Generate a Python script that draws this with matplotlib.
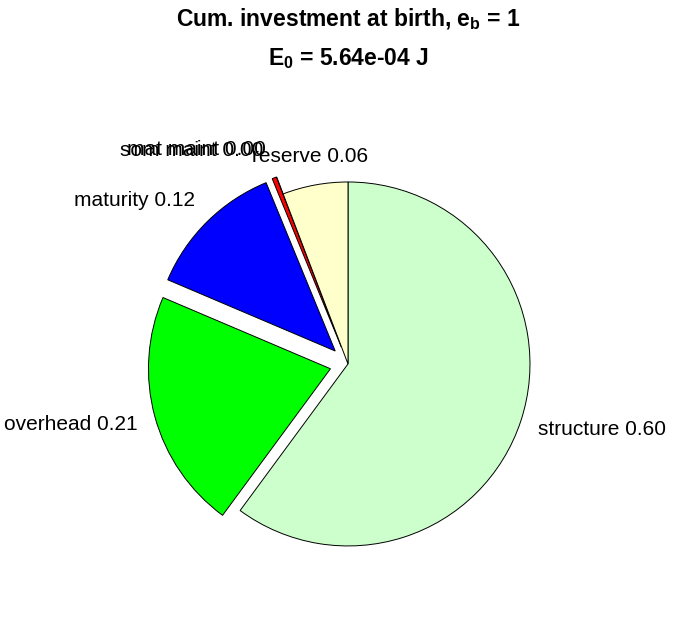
import matplotlib
matplotlib.use("Agg")
import matplotlib.pyplot as plt
import numpy as np

plt.rcParams['font.family'] = ['Liberation Sans', 'DejaVu Sans']
plt.rcParams['mathtext.fontset'] = 'custom'
plt.rcParams['mathtext.rm'] = 'Liberation Sans'
plt.rcParams['mathtext.it'] = 'Liberation Sans'
plt.rcParams['mathtext.bf'] = 'Liberation Sans:bold'

# cumulative investment fractions at birth
names = ["structure", "overhead", "maturity", "som maint", "mat maint", "reserve"]
fractions = [0.601, 0.213, 0.124, 0.004, 0.0, 0.058]
explode = [0, 0.1, 0.1, 0.1, 0.1, 0]
colors = [(0.8, 1, 0.8), (0, 1, 0), (0, 0, 1), (1, 0, 0), (1, 0, 1), (1, 1, 0.8)]
e_b = 1
E_0 = "5.64e-04"

fig = plt.figure(figsize=(6.96, 6.18), dpi=100)
ax = fig.add_axes([0, 0, 1, 1])
wedges, _ = ax.pie(fractions, explode=explode, colors=colors, startangle=90,
                   counterclock=False,
                   wedgeprops=dict(edgecolor="black", linewidth=0.7))

# labels placed roughly like matlab's pie does
for w, name, frac in zip(wedges, names, fractions):
    mid = np.deg2rad((w.theta1 + w.theta2) / 2)
    cx, cy = w.center
    c, s = np.cos(mid), np.sin(mid)
    y = cy + 1.16 * s
    if abs(c) > 0.5:
        x = cx + 1.1 * c
        ha = "left" if c > 0 else "right"
    elif abs(c) > 0.25:
        x = cx + 1.16 * c
        ha = "left" if c > 0 else "right"
    else:
        x = cx + 1.16 * c
        ha = "center"
    ax.text(x, y, f"{name} {frac:.2f}", ha=ha, va="center", fontsize=15)

ax.set_xlim(-1.912, 1.912)
ax.set_ylim(-1.396, 2.0)
ax.set_aspect("equal")
ax.axis("off")

fig.text(0.5, 1 - 26 / 618, r"Cum. investment at birth, $\mathbf{e_b}$ = " + str(e_b),
         ha="center", va="baseline", fontsize=16.5, fontweight="bold")
fig.text(0.5, 1 - 65 / 618, r"$\mathbf{E_0}$ = " + E_0 + " J",
         ha="center", va="baseline", fontsize=16.5, fontweight="bold")

fig.savefig("out.png", dpi=100)
